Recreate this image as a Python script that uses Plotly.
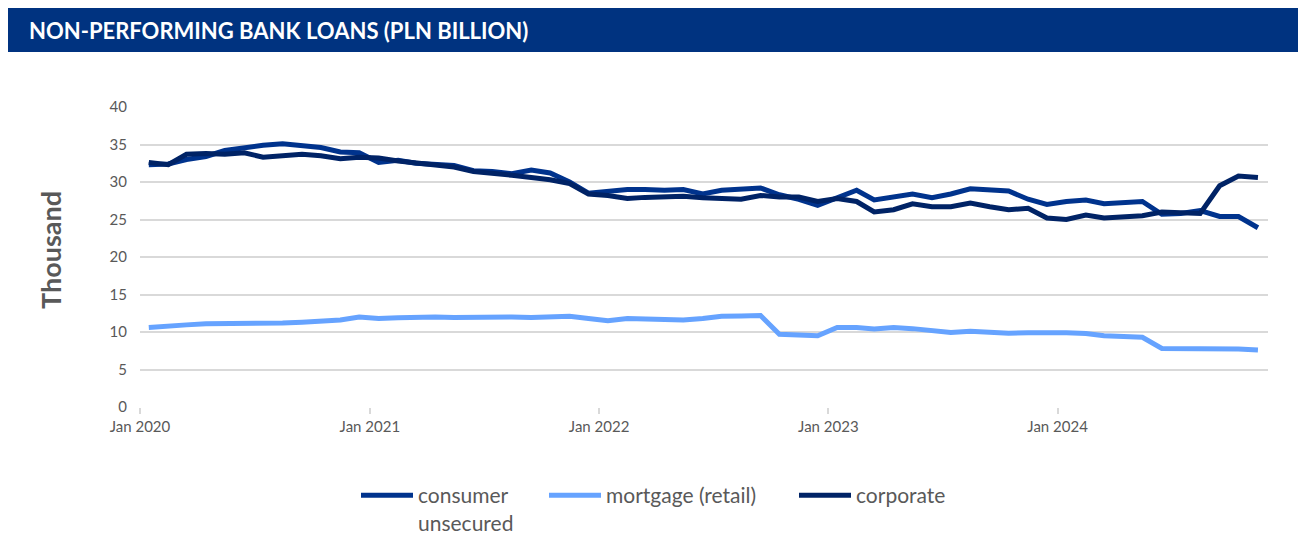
import pandas as pd
import plotly.graph_objects as go

# Monthly observations, Jan 2020 - Nov 2024 (plotted mid-month)
months = pd.date_range("2020-01-01", "2024-11-01", freq="MS") + pd.Timedelta(days=14)

consumer_unsecured = [
    32.3, 32.4, 33.0, 33.4, 34.2, 34.6, 34.9, 35.1, 34.9, 34.6, 34.0, 33.9,
    32.6, 32.9, 32.5, 32.4, 32.2, 31.5, 31.4, 31.1, 31.6, 31.2, 30.0, 28.5,
    28.8, 29.0, 29.0, 28.9, 29.0, 28.4, 28.9, 29.05, 29.2, 28.3, 27.7, 26.9,
    27.9, 28.9, 27.6, 28.0, 28.4, 27.9, 28.4, 29.1, 28.9, 28.8, 27.7, 27.0,
    27.4, 27.6, 27.1, 27.25, 27.4, 25.7, 25.8, 26.2, 25.4, 25.4, 23.9,
]
mortgage_retail = [
    10.6, 10.7, 10.95, 11.1, 11.1, 11.2, 11.15, 11.2, 11.3, 11.4, 11.6, 12.0,
    11.8, 11.9, 12.0, 12.0, 11.95, 12.0, 12.1, 12.0, 11.95, 12.0, 12.1, 11.8,
    11.5, 11.8, 11.7, 11.6, 11.6, 11.8, 12.1, 12.15, 12.2, 9.7, 9.55, 9.5,
    10.6, 10.6, 10.4, 10.6, 10.45, 10.2, 9.95, 10.1, 9.95, 9.85, 9.9, 9.95,
    9.9, 9.8, 9.5, 9.4, 9.3, 7.8, 7.8, 7.85, 7.7, 7.75, 7.6,
]
corporate = [
    32.6, 32.3, 33.7, 33.8, 33.7, 33.9, 33.3, 33.5, 33.7, 33.5, 33.1, 33.3,
    33.2, 32.8, 32.6, 32.35, 32.0, 31.4, 31.2, 30.9, 30.6, 30.3, 29.8, 28.4,
    28.2, 27.8, 27.95, 27.95, 28.1, 27.9, 27.8, 27.7, 28.2, 28.0, 28.0, 27.4,
    27.8, 27.4, 26.0, 26.3, 27.1, 26.7, 26.7, 27.2, 26.7, 26.3, 26.5, 25.2,
    25.0, 25.6, 25.2, 25.4, 25.5, 26.0, 25.9, 25.8, 29.5, 30.8, 30.6,
]

series_names = ["consumer<br>unsecured", "mortgage (retail)", "corporate"]
series_values = [consumer_unsecured, mortgage_retail, corporate]
series_colors = ["#00338D", "#66A3FF", "#002366"]
legend_ids = ["legend", "legend2", "legend3"]
legend_px = [356, 544, 794]  # left pixel of each legend entry

title_text = "NON-PERFORMING BANK LOANS (PLN BILLION)"
y_title = "Thousand"

FONT = "Lato, 'Open Sans', sans-serif"

W, H = 1298, 536
L, R, T, B = 140, 30, 107, 129
PW, PH = W - L - R, H - T - B


def px_x(p):
    return (p - L) / PW


def px_y(p):
    return (H - B - p) / PH


fig = go.Figure()
for name, vals, col, lg in zip(series_names, series_values, series_colors, legend_ids):
    fig.add_trace(go.Scatter(
        x=months, y=vals, name=name, mode="lines",
        line=dict(color=col, width=5), legend=lg,
    ))

legend_common = dict(
    orientation="h", yanchor="top", xanchor="left",
    font=dict(size=21, color="#595959", family=FONT),
    itemwidth=52, valign="top", bgcolor="rgba(0,0,0,0)",
)

layout_legends = {}
for lg, p in zip(legend_ids, legend_px):
    layout_legends[lg] = dict(legend_common, x=px_x(p), y=px_y(475))

fig.update_layout(
    width=W, height=H,
    margin=dict(l=L, r=R, t=T, b=B, autoexpand=False),
    paper_bgcolor="white", plot_bgcolor="white",
    font=dict(family=FONT, color="#595959", size=14),
    showlegend=True,
    xaxis=dict(
        type="date",
        range=["2020-01-01", "2024-12-01"],
        tickvals=["2020-01-01", "2021-01-01", "2022-01-01", "2023-01-01", "2024-01-01"],
        tickformat="%b %Y",
        showgrid=False,
        showline=False,
        ticks="outside", ticklen=6, tickcolor="#d9d9d9", tickwidth=2,
        tickfont=dict(size=15, color="#595959"),
        zeroline=False,
        fixedrange=True,
    ),
    yaxis=dict(
        range=[0, 40],
        tickvals=[0, 5, 10, 15, 20, 25, 30, 35, 40],
        showgrid=True, gridcolor="#d9d9d9", gridwidth=2,
        zeroline=False, showline=False, ticks="",
        tickfont=dict(size=15, color="#595959"),
        ticklabelstandoff=12,
        fixedrange=True,
    ),
    shapes=[
        dict(type="rect", xref="paper", yref="paper",
             x0=px_x(8), x1=px_x(W), y0=px_y(52), y1=px_y(8),
             fillcolor="#003380", line=dict(width=0), layer="above"),
    ],
    annotations=[
        dict(text=f"<b>{title_text}</b>", xref="paper", yref="paper",
             x=px_x(27), y=px_y(31),
             xanchor="left", yanchor="middle", showarrow=False,
             font=dict(size=22, color="white", family=FONT)),
        dict(text=f"<b>{y_title}</b>", xref="paper", yref="paper",
             x=px_x(50), y=px_y(250), textangle=-90,
             xanchor="center", yanchor="middle", showarrow=False,
             font=dict(size=27, color="#595959", family=FONT)),
    ],
    **layout_legends,
)

fig.write_html("out.html")
